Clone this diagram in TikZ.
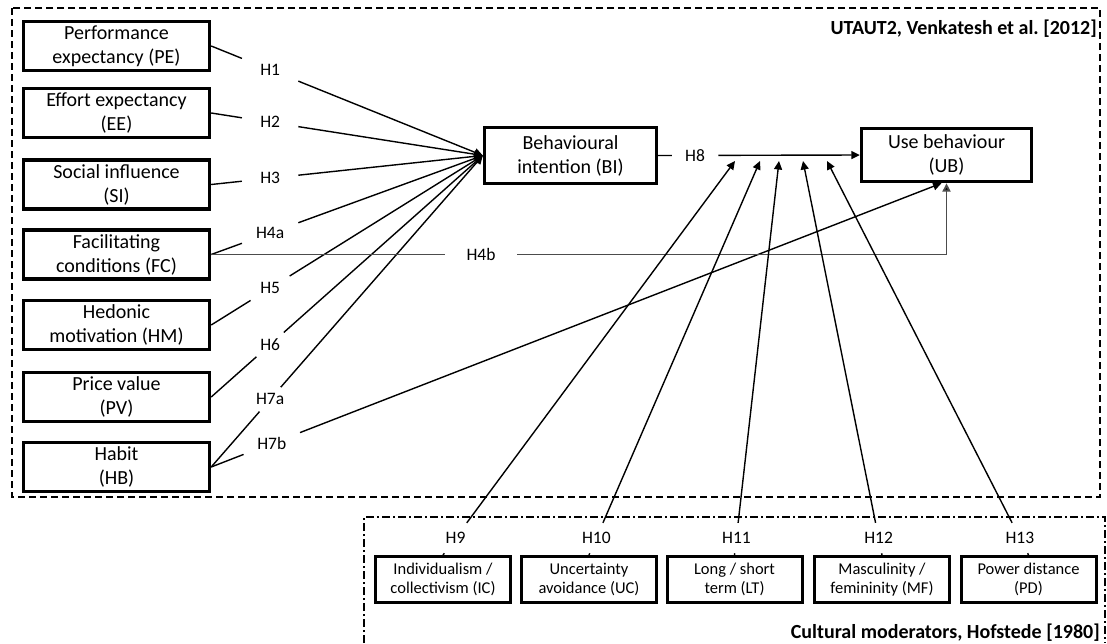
\documentclass[tikz,border=0pt]{standalone}
\usepackage{fontspec}
\setmainfont{Carlito}
\usetikzlibrary{arrows.meta,calc}
\frenchspacing
\begin{document}
\begin{tikzpicture}[x=1pt,y=-1pt,
  box/.style={draw, line width=3.4pt, align=center, font=\fontsize{20}{24}\selectfont,
    minimum width=186pt, minimum height=49pt, inner sep=0pt},
  sbox/.style={draw, line width=3pt, align=center, font=\fontsize{16.5}{19}\selectfont,
    minimum width=135pt, minimum height=46pt, inner sep=0pt},
  lab/.style={font=\fontsize{17.5}{20}\selectfont, inner sep=0pt, minimum width=56pt, minimum height=24pt},
  blab/.style={font=\fontsize{17.5}{20}\selectfont, inner sep=0pt, minimum width=30pt, minimum height=30pt},
  con/.style={line width=1.4pt},
  arr/.style={con, -{Triangle[length=8.5pt,width=8pt]}},
  gcon/.style={line width=1.8pt, black!70},
  garr/.style={gcon, -{Triangle[length=8.5pt,width=8pt,fill=black]}},
  ttl/.style={font=\fontsize{20}{24}\selectfont\bfseries, inner sep=0pt}
]
\useasboundingbox (0,0) rectangle (1107,643);

% frames
\draw[line width=1.2pt, dash pattern=on 7pt off 4pt] (12,8) rectangle (1100,497);
\draw[line width=1.2pt, dash pattern=on 8pt off 3pt on 2pt off 3pt] (364,643) -- (364,517) -- (1105,517) -- (1105,643);
\node[ttl, anchor=base east] (t1) at (1097,34) {UTAUT2, Venkatesh et al. [2012]};
\node[ttl, anchor=base east] (t2) at (1100,638) {Cultural moderators, Hofstede [1980]};

% left constructs
\node[box] (pe) at (116.5,46) {Performance\\expectancy (PE)};
\node[box] (ee) at (116.5,113) {Effort expectancy\\(EE)};
\node[box] (si) at (116.5,184.5) {Social influence\\(SI)};
\node[box] (fc) at (116.5,254.5) {Facilitating\\conditions (FC)};
\node[box] (hm) at (116.5,325) {Hedonic\\motivation (HM)};
\node[box] (pv) at (116.5,397) {Price value\\(PV)};
\node[box] (hb) at (116.5,467) {Habit\\(HB)};

\node[box, minimum width=172pt, minimum height=56pt] (bi) at (570.5,155.5) {Behavioural\\intention (BI)};
\node[box, minimum width=170pt, minimum height=53pt] (ub) at (946.5,155) {Use behaviour\\(UB)};

% cultural moderators
\node[sbox] (ic) at (443,579.5) {Individualism /\\collectivism (IC)};
\node[sbox] (uc) at (589,579.5) {Uncertainty\\avoidance (UC)};
\node[sbox] (lt) at (734.5,579.5) {Long / short\\term (LT)};
\node[sbox] (mf) at (882,579.5) {Masculinity /\\femininity (MF)};
\node[sbox] (pd) at (1028.5,579.5) {Power distance\\(PD)};

% H1 - H7a to BI
\foreach \b/\h in {pe/H1, ee/H2, si/H3, fc/H4a, hm/H5, pv/H6, hb/H7a}{
  \path (\b.east) -- (bi.west) node[lab, pos=0.217] (l\b) {\h};
  \draw[con] (\b.east) -- (l\b);
  \draw[arr] (l\b) -- (bi.west);
}

% H7b
\coordinate (ubh) at ([xshift=-5pt]ub.south);
\path (hb.east) -- (ubh) node[lab, pos=0.083] (h7b) {H7b};
\draw[con] (hb.east) -- (h7b);
\draw[arr] (h7b) -- (ubh);

% H4b
\path (fc.east) -- (fc.east -| ub.south) node[lab, pos=0.367, minimum width=72pt] (h4b) {H4b};
\draw[gcon] (fc.east) -- (h4b);
\draw[garr] (h4b) -| (ub.south);

% H8
\path (bi.east) -- (ub.west) node[lab, pos=0.183, minimum width=46pt] (h8) {H8};
\draw[con] (bi.east) -- (h8);
\draw[arr] (h8) -- (ub.west);

% moderators H9 - H13
\coordinate (t9) at (735,161);
\coordinate (t10) at (760,161);
\coordinate (t11) at (779,161);
\coordinate (t12) at (803,161);
\coordinate (t13) at (827,161);
\foreach \b/\t/\h in {ic/t9/H9, uc/t10/H10, lt/t11/H11, mf/t12/H12, pd/t13/H13}{
  \path (\b.north) -- (\t) node[blab, pos=0.043] (l\b) {\h};
  \draw[con] (\b.north) -- (l\b);
  \draw[arr] (l\b) -- (\t);
}
\end{tikzpicture}
\end{document}
